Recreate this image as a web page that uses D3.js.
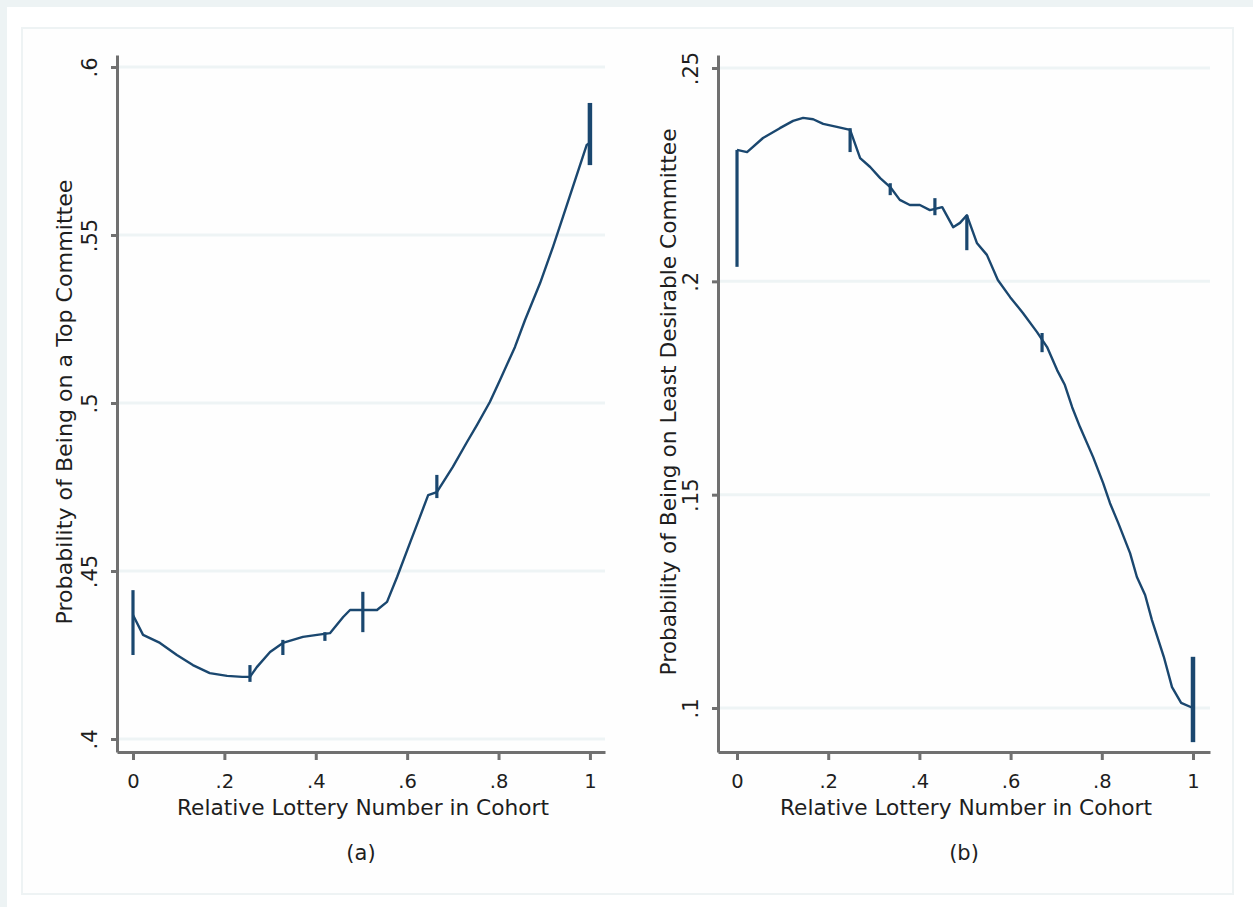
<!DOCTYPE html>
<html>
<head>
<meta charset="utf-8">
<script src="https://cdn.jsdelivr.net/npm/d3@7"></script>
<style>
  html, body { margin: 0; padding: 0; background: #ffffff; }
  svg { display: block; }
  text { font-family: "DejaVu Sans", sans-serif; fill: #1e1e1e; }
</style>
</head>
<body>
<svg id="chart" width="1253" height="907"></svg>
<script>
// ---------------- DATA ----------------
const xTickValues = [0, 0.2, 0.4, 0.6, 0.8, 1];
const xTickLabels = ["0", ".2", ".4", ".6", ".8", "1"];

const yTickValuesA = [0.4, 0.45, 0.5, 0.55, 0.6];
const yTickLabelsA = [".4", ".45", ".5", ".55", ".6"];
const yTickValuesB = [0.1, 0.15, 0.2, 0.25];
const yTickLabelsB = [".1", ".15", ".2", ".25"];

const xTitle = "Relative Lottery Number in Cohort";
const yTitleA = "Probability of Being on a Top Committee";
const yTitleB = "Probability of Being on Least Desirable Committee";
const captionA = "(a)";
const captionB = "(b)";

// panel (a): relative lottery number vs probability (top committee)
const lineA = [
  [0.000, 0.4369], [0.022, 0.4310], [0.059, 0.4286], [0.096, 0.4250],
  [0.131, 0.4220], [0.168, 0.4196], [0.206, 0.4188], [0.239, 0.4185],
  [0.256, 0.4185], [0.271, 0.4214], [0.300, 0.4259], [0.328, 0.4286],
  [0.372, 0.4304], [0.403, 0.4310], [0.431, 0.4315], [0.460, 0.4363],
  [0.475, 0.4384], [0.503, 0.4384], [0.534, 0.4384], [0.556, 0.4408],
  [0.578, 0.4482], [0.606, 0.4583], [0.628, 0.4661], [0.646, 0.4726],
  [0.665, 0.4735], [0.700, 0.4810], [0.731, 0.4884], [0.753, 0.4935],
  [0.781, 0.5003], [0.803, 0.5068], [0.836, 0.5167], [0.858, 0.5247],
  [0.891, 0.5357], [0.919, 0.5464], [0.941, 0.5554], [0.993, 0.5768],
  [1.000, 0.5775]
];
// vertical spikes: [x, low, high]
const spikesA = [
  [0.000, 0.4250, 0.4443], [0.256, 0.4170, 0.4220], [0.328, 0.4250, 0.4295],
  [0.420, 0.4292, 0.4318], [0.503, 0.4318, 0.4438], [0.665, 0.4717, 0.4786],
  [1.000, 0.5708, 0.5893]
];

// panel (b): relative lottery number vs probability (least desirable committee)
const lineB = [
  [0.000, 0.2308], [0.022, 0.2303], [0.057, 0.2336], [0.094, 0.2359],
  [0.123, 0.2376], [0.145, 0.2383], [0.167, 0.2380], [0.189, 0.2369],
  [0.219, 0.2362], [0.248, 0.2355], [0.270, 0.2289], [0.292, 0.2268],
  [0.314, 0.2242], [0.336, 0.2221], [0.357, 0.2191], [0.379, 0.2179],
  [0.401, 0.2179], [0.423, 0.2167], [0.450, 0.2174], [0.474, 0.2127],
  [0.489, 0.2137], [0.504, 0.2155], [0.526, 0.2090], [0.548, 0.2062],
  [0.572, 0.2003], [0.599, 0.1963], [0.627, 0.1926], [0.658, 0.1881],
  [0.680, 0.1846], [0.702, 0.1792], [0.719, 0.1757], [0.735, 0.1705],
  [0.752, 0.1659], [0.781, 0.1588], [0.803, 0.1527], [0.818, 0.1480],
  [0.836, 0.1434], [0.862, 0.1363], [0.877, 0.1307], [0.895, 0.1265],
  [0.910, 0.1206], [0.936, 0.1120], [0.954, 0.1049], [0.974, 0.1012],
  [1.000, 0.1000]
];
const spikesB = [
  [0.000, 0.2034, 0.2308], [0.248, 0.2303, 0.2359], [0.336, 0.2202, 0.2230],
  [0.434, 0.2155, 0.2195], [0.504, 0.2073, 0.2155], [0.669, 0.1834, 0.1879],
  [1.000, 0.0920, 0.1120]
];

// ---------------- DRAWING ----------------
const svg = d3.select("#chart");
const NAVY = "#1a476f";
const AXIS = "#707070";
const GRID = "#eef4f5";

// background frames
svg.append("rect").attr("x", 0).attr("y", 0).attr("width", 1253).attr("height", 907).attr("fill", "#edf3f4");
svg.append("rect").attr("x", 7).attr("y", 7).attr("width", 1246).attr("height", 900).attr("fill", "#ffffff");
svg.append("rect").attr("x", 22).attr("y", 28).attr("width", 1211).attr("height", 866)
  .attr("fill", "#fefefe").attr("stroke", "#eef3f4").attr("stroke-width", 2);

function panel(cfg) {
  const x = d3.scaleLinear().domain(cfg.xDomain).range(cfg.xRange);
  const y = d3.scaleLinear().domain(cfg.yDomain).range([752, 55]);
  const g = svg.append("g");

  // grid lines
  g.append("g").selectAll("line").data(cfg.yTicks).join("line")
    .attr("x1", cfg.xRange[0] + 2).attr("x2", cfg.xRange[1])
    .attr("y1", d => y(d)).attr("y2", d => y(d))
    .attr("stroke", GRID).attr("stroke-width", 3);

  // y axis
  const yAxis = d3.axisLeft(y).tickValues(cfg.yTicks)
    .tickFormat((d, i) => cfg.yLabels[i]).tickSize(6).tickSizeOuter(0);
  const ya = g.append("g").attr("transform", `translate(${cfg.xRange[0]},0)`).call(yAxis);
  ya.select(".domain").attr("stroke", AXIS).attr("stroke-width", 3);
  ya.selectAll(".tick line").attr("stroke", AXIS).attr("stroke-width", 3);
  ya.selectAll(".tick text")
    .attr("x", null).attr("dy", null)
    .attr("transform", "translate(-20,0) rotate(-90)")
    .attr("text-anchor", "middle")
    .style("font-size", "21px").style("fill", "#1e1e1e");

  // x axis
  const xAxis = d3.axisBottom(x).tickValues(xTickValues)
    .tickFormat((d, i) => xTickLabels[i]).tickSize(8).tickSizeOuter(0);
  const xa = g.append("g").attr("transform", "translate(0,752)").call(xAxis);
  xa.select(".domain").attr("stroke", AXIS).attr("stroke-width", 3);
  xa.selectAll(".tick line").attr("stroke", AXIS).attr("stroke-width", 3);
  xa.selectAll(".tick text")
    .attr("y", 36).attr("dy", null)
    .style("font-size", "19.5px").style("fill", "#1e1e1e");

  // titles
  const midX = (cfg.xRange[0] + cfg.xRange[1]) / 2;
  g.append("text").attr("x", midX + 2).attr("y", 815).attr("text-anchor", "middle")
    .attr("textLength", 372).attr("lengthAdjust", "spacingAndGlyphs")
    .style("font-size", "20.5px").text(xTitle);
  g.append("text")
    .attr("transform", `translate(${cfg.yTitleX},402) rotate(-90)`)
    .attr("text-anchor", "middle")
    .attr("textLength", cfg.yTitleLen).attr("lengthAdjust", "spacingAndGlyphs")
    .style("font-size", "21px").text(cfg.yTitle);
  g.append("text").attr("x", midX).attr("y", 860).attr("text-anchor", "middle")
    .style("font-size", "21px").text(cfg.caption);

  // line
  const line = d3.line().x(d => x(d[0])).y(d => y(d[1]));
  g.append("path").datum(cfg.line).attr("d", line)
    .attr("fill", "none").attr("stroke", NAVY).attr("stroke-width", 2.4)
    .attr("stroke-linejoin", "round");

  // spikes
  g.append("g").selectAll("line").data(cfg.spikes).join("line")
    .attr("x1", d => x(d[0])).attr("x2", d => x(d[0]))
    .attr("y1", d => y(d[1])).attr("y2", d => y(d[2]))
    .attr("stroke", NAVY)
    .attr("stroke-width", (d, i) => (i === cfg.spikes.length - 1 ? 4.5 : 3.2));
}

panel({
  xDomain: [-0.035, 1.033], xRange: [117, 605],
  yDomain: [0.39613, 0.60357],
  yTicks: yTickValuesA, yLabels: yTickLabelsA,
  yTitle: yTitleA, yTitleX: 72, yTitleLen: 445,
  caption: captionA, line: lineA, spikes: spikesA
});
panel({
  xDomain: [-0.0417, 1.0373], xRange: [718, 1210],
  yDomain: [0.08969, 0.25305],
  yTicks: yTickValuesB, yLabels: yTickLabelsB,
  yTitle: yTitleB, yTitleX: 676, yTitleLen: 547,
  caption: captionB, line: lineB, spikes: spikesB
});
</script>
</body>
</html>
